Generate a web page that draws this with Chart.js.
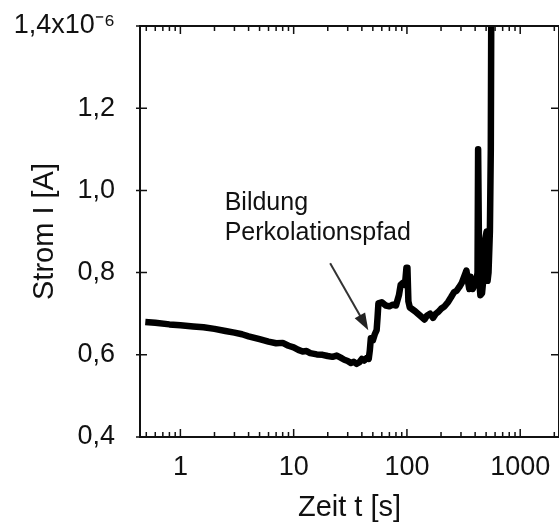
<!DOCTYPE html>
<html><head><meta charset="utf-8">
<script src="https://cdn.jsdelivr.net/npm/chart.js@4/dist/chart.umd.min.js"></script>
<style>html,body{margin:0;padding:0;background:#fff}#wrap{width:559px;height:525px}</style>
</head><body><div id="wrap"><canvas id="c" width="559" height="525"></canvas></div>
<script>
// time in seconds
const timeValues = [0.49,0.6,0.8,1.0,1.3,1.6,2.0,2.5,3.0,3.5,4.0,5.0,6.0,7.0,8.0,9.0,10,11,12,13,14,16,18,20,22,24,26,28,30,32,34,36,38,40,42,44,46,47,48,50,52,54,55,56,60,65,70,75,80,85,88,92,96,99,101,103,106,110,118,125,135,143,150,160,170,180,190,200,215,230,245,260,275,290,305,320,335,345,355,365,380,395,410,420,425,430,435,445,460,475,490,505,515,525,540,550,555];
// current in units of 1e-6 A
const currentValues = [0.680,0.678,0.674,0.672,0.669,0.667,0.663,0.658,0.654,0.650,0.645,0.638,0.632,0.628,0.629,0.622,0.618,0.612,0.608,0.609,0.604,0.601,0.600,0.597,0.595,0.598,0.593,0.588,0.585,0.580,0.583,0.578,0.582,0.590,0.586,0.592,0.590,0.610,0.640,0.635,0.650,0.660,0.690,0.725,0.728,0.720,0.718,0.722,0.720,0.745,0.770,0.775,0.770,0.812,0.812,0.730,0.715,0.712,0.706,0.700,0.692,0.686,0.695,0.700,0.690,0.700,0.705,0.712,0.718,0.728,0.740,0.752,0.756,0.765,0.775,0.790,0.805,0.780,0.760,0.790,0.760,0.770,0.780,0.800,1.100,1.100,0.780,0.745,0.750,0.790,0.880,0.900,0.780,0.800,0.900,1.100,1.420];
const xTickValues = [1,10,100,1000];
const xTickLabels = ['1','10','100','1000'];
const xMinorValues = [0.5,0.6,0.7,0.8,0.9,2,3,4,5,6,7,8,9,20,30,40,50,60,70,80,90,200,300,400,500,600,700,800,900,2000];
const yTickValues = [0.4,0.6,0.8,1.0,1.2,1.4];
const yTickLabels = ['0,4','0,6','0,8','1,0','1,2','1,4x10\u207B\u2076'];
const annotationLines = ['Bildung','Perkolationspfad'];
const annotationAnchor = {x:2.46, y:0.952};
const arrowTail = {x:21, y:0.823};
const arrowTip = {x:45.6, y:0.66};

const points = timeValues.map((t,i)=>({x:t,y:currentValues[i]}));
const FONT = 'Liberation Sans, Arial, sans-serif';

const framePlugin = {
  id:'frame',
  afterDatasetsDraw(chart){
    const {ctx, chartArea:a, scales:{x,y}} = chart;
    ctx.save();
    ctx.strokeStyle='#111'; ctx.lineWidth=2;
    ctx.strokeRect(a.left,a.top,a.right-a.left,a.bottom-a.top);
    ctx.lineWidth=1.5;
    ctx.beginPath();
    xTickValues.forEach(v=>{const p=x.getPixelForValue(v);ctx.moveTo(p,a.bottom);ctx.lineTo(p,a.bottom-8);ctx.moveTo(p,a.top);ctx.lineTo(p,a.top+8);});
    xMinorValues.forEach(v=>{const p=x.getPixelForValue(v);ctx.moveTo(p,a.bottom);ctx.lineTo(p,a.bottom-5);ctx.moveTo(p,a.top);ctx.lineTo(p,a.top+5);});
    yTickValues.forEach(v=>{const p=y.getPixelForValue(v);ctx.moveTo(a.left-4,p);ctx.lineTo(a.left+7,p);ctx.moveTo(a.right+2,p);ctx.lineTo(a.right-8,p);});
    ctx.stroke();
    // annotation
    ctx.fillStyle='#111';
    ctx.font='25px '+FONT;
    ctx.textBaseline='alphabetic'; ctx.textAlign='left';
    const ax=x.getPixelForValue(annotationAnchor.x), ay=y.getPixelForValue(annotationAnchor.y);
    annotationLines.forEach((s,i)=>ctx.fillText(s,ax,ay+i*30));
    // arrow
    const tx=x.getPixelForValue(arrowTail.x), ty=y.getPixelForValue(arrowTail.y);
    const hx=x.getPixelForValue(arrowTip.x), hy=y.getPixelForValue(arrowTip.y);
    const ang=Math.atan2(hy-ty,hx-tx);
    ctx.strokeStyle='#333'; ctx.fillStyle='#222'; ctx.lineWidth=2;
    ctx.beginPath(); ctx.moveTo(tx,ty); ctx.lineTo(hx-14*Math.cos(ang),hy-14*Math.sin(ang)); ctx.stroke();
    ctx.beginPath(); ctx.moveTo(hx,hy);
    ctx.lineTo(hx-17*Math.cos(ang)+6*Math.sin(ang), hy-17*Math.sin(ang)-6*Math.cos(ang));
    ctx.lineTo(hx-17*Math.cos(ang)-6*Math.sin(ang), hy-17*Math.sin(ang)+6*Math.cos(ang));
    ctx.closePath(); ctx.fill();
    ctx.restore();
  }
};

new Chart(document.getElementById('c'),{
  type:'line',
  data:{datasets:[{data:points,borderColor:'#000',borderWidth:6.5,pointRadius:0,tension:0,fill:false,clip:0,borderJoinStyle:'round'}]},
  options:{
    responsive:false, animation:false,
    layout:{padding:{top:26,right:0,left:0,bottom:0}},
    plugins:{legend:{display:false},tooltip:{enabled:false}},
    scales:{
      x:{type:'logarithmic',min:0.44,max:2200,
        grid:{display:false},border:{display:false},
        afterBuildTicks(s){s.ticks=xTickValues.map(v=>({value:v}));},
        afterFit(s){s.height=88;s.paddingLeft=0;s.paddingRight=0;},
        ticks:{color:'#111',font:{family:FONT,size:27},padding:6,maxRotation:0,autoSkip:false,
          callback:(v)=>{const i=xTickValues.indexOf(v);return i>=0?xTickLabels[i]:'';}},
        title:{display:true,text:'Zeit t [s]',color:'#111',font:{family:FONT,size:29},padding:{top:0,bottom:0}}
      },
      y:{type:'linear',min:0.4,max:1.4,
        grid:{display:false},border:{display:false},
        afterBuildTicks(s){s.ticks=yTickValues.map(v=>({value:v}));},
        afterFit(s){s.width=140;s.paddingTop=0;s.paddingBottom=0;},
        ticks:{color:'#111',font:{family:FONT,size:27},padding:17,
          callback:(v)=>{const i=yTickValues.findIndex(t=>Math.abs(t-v)<1e-6);return i>=0?yTickLabels[i]:'';}},
        title:{display:true,text:'Strom I [A]',color:'#111',font:{family:FONT,size:29},padding:{top:28,bottom:0}}
      }
    }
  },
  plugins:[framePlugin]
});
</script></body></html>
